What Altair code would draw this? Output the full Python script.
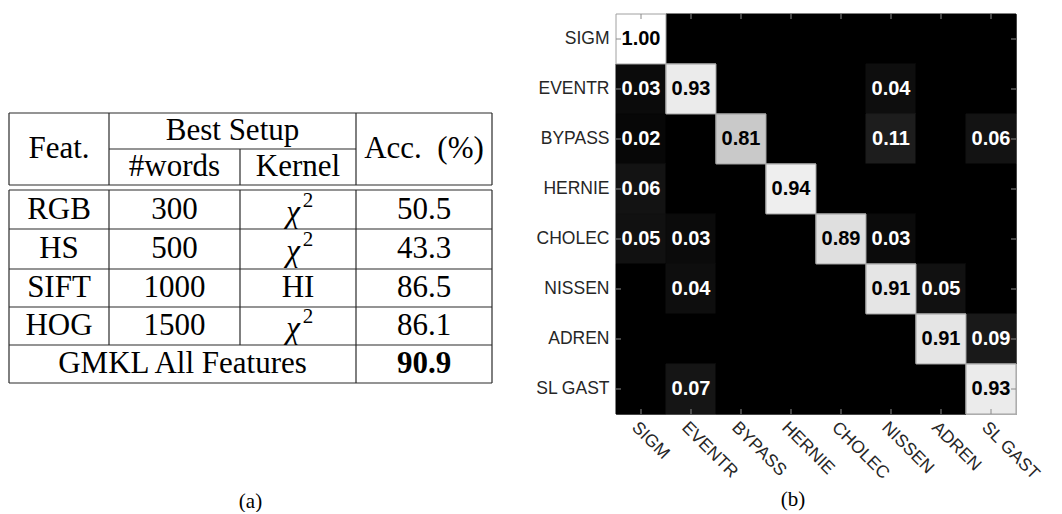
import altair as alt
import pandas as pd

# ---------------- (a) table contents ----------------
head_feat = "Feat."
head_setup = "Best Setup"
head_words = "#words"
head_kernel = "Kernel"
head_acc = "Acc. \u00a0(%)"
features = ["RGB", "HS", "SIFT", "HOG"]
n_words = ["300", "500", "1000", "1500"]
kernels = ["χ2", "χ2", "HI", "χ2"]
accuracies = ["50.5", "43.3", "86.5", "86.1"]
total_label = "GMKL All Features"
total_acc = "90.9"

# ---------------- (b) confusion matrix ----------------
classes = ["SIGM", "EVENTR", "BYPASS", "HERNIE", "CHOLEC", "NISSEN", "ADREN", "SL GAST"]
confusion = [
    [1.00, 0.00, 0.00, 0.00, 0.00, 0.00, 0.00, 0.00],
    [0.03, 0.93, 0.00, 0.00, 0.00, 0.04, 0.00, 0.00],
    [0.02, 0.00, 0.81, 0.00, 0.00, 0.11, 0.00, 0.06],
    [0.06, 0.00, 0.00, 0.94, 0.00, 0.00, 0.00, 0.00],
    [0.05, 0.03, 0.00, 0.00, 0.89, 0.03, 0.00, 0.00],
    [0.00, 0.04, 0.00, 0.00, 0.00, 0.91, 0.05, 0.00],
    [0.00, 0.00, 0.00, 0.00, 0.00, 0.00, 0.91, 0.09],
    [0.00, 0.07, 0.00, 0.00, 0.00, 0.00, 0.00, 0.93],
]

# ---------------- table layout (grid units) ----------------
COL = [0, 100, 231, 347, 483]
ROW = [0, 36, 72, 77, 116, 156, 194, 232, 270]
TABLE_W, PANEL_H = 483, 400
TABLE_TOP = 99


def mid(a, b):
    return (a + b) / 2


hl = [(COL[0], COL[4], ROW[0]), (COL[1], COL[3], ROW[1]), (COL[0], COL[4], ROW[2])]
hl += [(COL[0], COL[4], r) for r in ROW[3:]]
vl = [(COL[0], ROW[0], ROW[2]), (COL[0], ROW[3], ROW[8]),
      (COL[4], ROW[0], ROW[2]), (COL[4], ROW[3], ROW[8]),
      (COL[1], ROW[0], ROW[2]), (COL[1], ROW[3], ROW[7]),
      (COL[2], ROW[1], ROW[2]), (COL[2], ROW[3], ROW[7]),
      (COL[3], ROW[0], ROW[2]), (COL[3], ROW[3], ROW[8])]
lines = [dict(x=a, x2=b, y=y, y2=y) for a, b, y in hl] + \
        [dict(x=x, x2=x, y=a, y2=b) for x, a, b in vl]
lines_df = pd.DataFrame(lines)

plain, chi, sup, bold = [], [], [], []
plain.append(dict(t=head_feat, x=mid(COL[0], COL[1]), y=mid(ROW[0], ROW[2])))
plain.append(dict(t=head_setup, x=mid(COL[1], COL[3]), y=mid(ROW[0], ROW[1])))
plain.append(dict(t=head_words, x=mid(COL[1], COL[2]), y=mid(ROW[1], ROW[2])))
plain.append(dict(t=head_kernel, x=mid(COL[2], COL[3]), y=mid(ROW[1], ROW[2])))
plain.append(dict(t=head_acc, x=mid(COL[3], COL[4]), y=mid(ROW[0], ROW[2])))
for i in range(len(features)):
    yc = mid(ROW[3 + i], ROW[4 + i])
    plain.append(dict(t=features[i], x=mid(COL[0], COL[1]), y=yc))
    plain.append(dict(t=n_words[i], x=mid(COL[1], COL[2]), y=yc))
    k = kernels[i]
    if k.startswith("χ"):
        chi.append(dict(t=k[0], x=mid(COL[2], COL[3]), y=yc))
        sup.append(dict(t=k[1:], x=mid(COL[2], COL[3]), y=yc))
    else:
        plain.append(dict(t=k, x=mid(COL[2], COL[3]), y=yc))
    plain.append(dict(t=accuracies[i], x=mid(COL[3], COL[4]), y=yc))
plain.append(dict(t=total_label, x=mid(COL[0], COL[3]), y=mid(ROW[7], ROW[8])))
bold.append(dict(t=total_acc, x=mid(COL[3], COL[4]), y=mid(ROW[7], ROW[8])))

xs = alt.Scale(domain=[0, TABLE_W], nice=False, zero=False)
ys = alt.Scale(domain=[-TABLE_TOP, PANEL_H - TABLE_TOP], nice=False, zero=False, reverse=True)

serif = "Liberation Serif"
FS = 31
rules = alt.Chart(lines_df).mark_rule(color="#2a2a2a", strokeWidth=1.2).encode(
    x=alt.X("x:Q", scale=xs, axis=None), x2="x2:Q",
    y=alt.Y("y:Q", scale=ys, axis=None), y2="y2:Q")


def text_layer(rows, **kw):
    style = dict(font=serif, fontSize=FS, color="black", align="center", baseline="middle")
    style.update(kw)
    return alt.Chart(pd.DataFrame(rows)).mark_text(**style).encode(
        x=alt.X("x:Q", scale=xs, axis=None), y=alt.Y("y:Q", scale=ys, axis=None), text="t:N")


table = alt.layer(
    rules, text_layer(plain),
    text_layer(chi, fontStyle="italic", dx=-5, dy=3),
    text_layer(sup, fontSize=21, dx=10, dy=-9),
    text_layer(bold, fontWeight="bold"),
).properties(
    width=TABLE_W, height=PANEL_H,
    title=alt.TitleParams("(a)", orient="bottom", anchor="middle", font=serif, fontSize=21,
                          fontWeight="normal", color="black", offset=77),
)

# ---------------- matrix chart ----------------
recs = []
for i, t in enumerate(classes):
    for j, p in enumerate(classes):
        recs.append(dict(true=t, pred=p, v=confusion[i][j]))
mat_df = pd.DataFrame(recs)
ticks_df = pd.DataFrame(dict(true=classes, pred=classes))

MW, MH = 400, 400
sans = "Liberation Sans"
gray_scale = alt.Scale(domain=[0, 1], range=["#000000", "#ffffff"])
xenc = alt.X("pred:N", sort=classes, scale=alt.Scale(paddingInner=0, paddingOuter=0),
             axis=alt.Axis(title=None, orient="bottom", labelAngle=45, labelAlign="left",
                           labelBaseline="top", labelFont=sans, labelFontSize=17.5,
                           labelColor="#262626", ticks=False, domain=False, labelPadding=4))
yenc = alt.Y("true:N", sort=classes, scale=alt.Scale(paddingInner=0, paddingOuter=0),
             axis=alt.Axis(title=None, labelFont=sans, labelFontSize=17.5, labelColor="#262626",
                           ticks=False, domain=False, labelPadding=7))

cells = alt.Chart(mat_df).mark_rect(strokeWidth=1).encode(
    x=xenc, y=yenc,
    color=alt.Color("v:Q", scale=gray_scale, legend=None),
    stroke=alt.Stroke("v:Q", scale=gray_scale, legend=None),
)
diag = alt.Chart(mat_df).transform_filter("datum.v > 0.5").mark_rect(
    stroke="#a0a0a0", strokeWidth=1
).encode(
    x=alt.X("pred:N", sort=classes), y=alt.Y("true:N", sort=classes),
    color=alt.Color("v:Q", scale=gray_scale, legend=None),
)
labels = alt.Chart(mat_df).transform_filter("datum.v > 0").mark_text(
    font=sans, fontWeight="bold", fontSize=20, align="center", baseline="middle"
).encode(
    x=alt.X("pred:N", sort=classes), y=alt.Y("true:N", sort=classes),
    text=alt.Text("v:Q", format=".2f"),
    color=alt.condition("datum.v > 0.5", alt.value("black"), alt.value("white")),
)
tick_col = "#8a8a8a"
tl = alt.Chart(ticks_df).mark_rule(color=tick_col).encode(
    y=alt.Y("true:N", sort=classes), x=alt.value(0), x2=alt.value(5))
tr = alt.Chart(ticks_df).mark_rule(color=tick_col).encode(
    y=alt.Y("true:N", sort=classes), x=alt.value(MW - 5), x2=alt.value(MW))
tt = alt.Chart(ticks_df).mark_rule(color=tick_col).encode(
    x=alt.X("pred:N", sort=classes), y=alt.value(0), y2=alt.value(5))
tb = alt.Chart(ticks_df).mark_rule(color=tick_col).encode(
    x=alt.X("pred:N", sort=classes), y=alt.value(MH - 5), y2=alt.value(MH))

matrix = alt.layer(cells, diag, labels, tl, tr, tt, tb).properties(
    width=MW, height=MH,
    view=alt.ViewBackground(stroke="#8a8a8a", strokeWidth=1),
    title=alt.TitleParams("(b)", orient="bottom", anchor="middle", font=serif, fontSize=21,
                          fontWeight="normal", color="black", offset=6, dx=-23),
)

chart = alt.hconcat(table, matrix, spacing=41).properties(
    padding={"left": 0, "top": 5, "right": 0, "bottom": 0}
).configure_view(stroke=None)

chart.save("out.html", embed_options={"renderer": "svg", "actions": False})
